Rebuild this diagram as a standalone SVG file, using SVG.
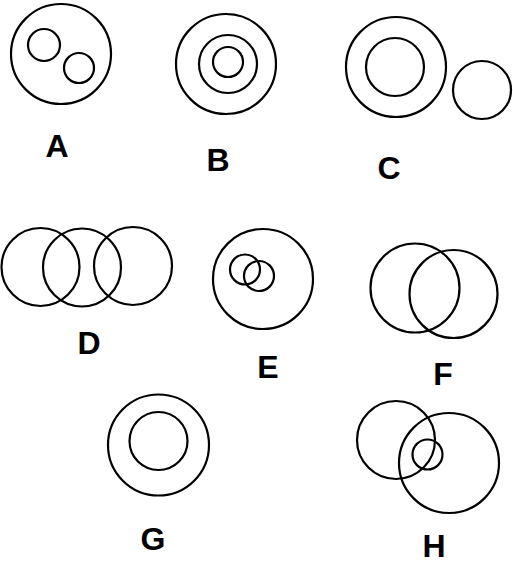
<svg xmlns="http://www.w3.org/2000/svg" width="513" height="564" viewBox="0 0 513 564">
<style>
circle{fill:none;stroke:#000;stroke-width:2.2}
text{font-family:"Liberation Sans",Arial,sans-serif;font-weight:bold;font-size:32px;text-anchor:middle;fill:#000}
</style>
<rect width="513" height="564" fill="#fff"/>
<g id="A">
<circle cx="61" cy="54" r="50" stroke-width="2.8"/>
<circle cx="44" cy="45" r="16"/>
<circle cx="79" cy="68" r="15"/>
<text x="57" y="157">A</text>
</g>
<g id="B">
<circle cx="226" cy="64" r="50"/>
<circle cx="228" cy="64" r="29"/>
<circle cx="228" cy="62" r="15"/>
<text x="218" y="171">B</text>
</g>
<g id="C">
<circle cx="396" cy="67" r="50"/>
<circle cx="395" cy="67" r="29"/>
<circle cx="482" cy="90" r="29"/>
<text x="389" y="179">C</text>
</g>
<g id="D">
<circle cx="40.5" cy="267" r="39"/>
<circle cx="82" cy="267.5" r="39"/>
<circle cx="133" cy="266" r="39"/>
<text x="89" y="354">D</text>
</g>
<g id="E">
<circle cx="263" cy="279" r="50"/>
<circle cx="245" cy="269.5" r="15"/>
<circle cx="259" cy="276" r="15"/>
<text x="268" y="378">E</text>
</g>
<g id="F">
<circle cx="415" cy="288" r="44.5"/>
<circle cx="453.5" cy="294" r="44"/>
<text x="443" y="385">F</text>
</g>
<g id="G">
<circle cx="158.5" cy="445" r="50.5"/>
<circle cx="158.5" cy="441" r="29"/>
<text x="153" y="550">G</text>
</g>
<g id="H">
<circle cx="396" cy="440" r="39"/>
<circle cx="449" cy="463" r="50"/>
<circle cx="427.5" cy="454.5" r="15"/>
<text x="434" y="557">H</text>
</g>
<g id="connectors"/>
</svg>
